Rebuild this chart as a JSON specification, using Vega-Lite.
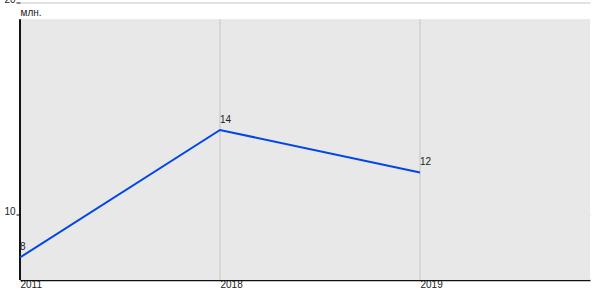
{
  "$schema": "https://vega.github.io/schema/vega-lite/v6.json",
  "autosize": "none",
  "width": 570,
  "height": 277.5,
  "padding": {"left": 20, "top": 2.5, "right": 10, "bottom": 20},
  "background": "white",
  "config": {
    "view": {"stroke": null},
    "font": "Liberation Sans",
    "axis": {"labelFont": "Liberation Sans", "titleFont": "Liberation Sans", "labelFontSize": 10, "labelColor": "#222", "gridColor": "#c4c4c4", "gridWidth": 1, "domainColor": "#111", "tickColor": "#111"}
  },
  "data": {"values": [
    {"year": "2011", "value": 8},
    {"year": "2018", "value": 14},
    {"year": "2019", "value": 12}
  ]},
  "layer": [
    {
      "mark": {"type": "rect", "color": "#e8e8e8"},
      "encoding": {
        "y": {"datum": 19.2, "type": "quantitative", "scale": {"domain": [6.94, 20], "nice": false, "zero": false}},
        "y2": {"datum": 6.94}
      }
    },
    {
      "mark": {"type": "rule", "color": "#c4c4c4", "strokeWidth": 1},
      "encoding": {
        "x": {"field": "year", "type": "ordinal"},
        "y": {"datum": 19.2, "type": "quantitative"},
        "y2": {"datum": 6.94}
      }
    },
    {
      "mark": {"type": "rule", "color": "#111", "strokeWidth": 1.5},
      "encoding": {
        "x": {"datum": "2011", "type": "ordinal"},
        "y": {"datum": 19.2, "type": "quantitative"},
        "y2": {"datum": 6.94}
      }
    },
    {
      "mark": {"type": "line", "color": "#0046e8", "strokeWidth": 2},
      "encoding": {
        "x": {"field": "year", "type": "ordinal", "scale": {"type": "point", "padding": 0.425, "align": 0},
          "axis": {"title": null, "labelAngle": 0, "labelAlign": "left", "labelPadding": 4, "tickSize": 0, "grid": false, "domainWidth": 1.5}},
        "y": {"field": "value", "type": "quantitative", "scale": {"domain": [6.94, 20], "nice": false, "zero": false},
          "axis": {"values": [10, 20], "title": "млн.", "titleAngle": 0, "titleX": 0, "titleY": 12.5, "titleAlign": "left", "titleBaseline": "alphabetic", "titleFontSize": 10, "titleFontWeight": "normal", "titleColor": "#222", "tickSize": 4, "labelPadding": 1, "labelBaseline": "alphabetic", "grid": true, "domain": false}}
      }
    },
    {
      "mark": {"type": "text", "align": "left", "baseline": "bottom", "dx": 0, "dy": -5, "fontSize": 10, "color": "#222"},
      "encoding": {
        "x": {"field": "year", "type": "ordinal"},
        "y": {"field": "value", "type": "quantitative"},
        "text": {"field": "value", "type": "quantitative"}
      }
    }
  ]
}
